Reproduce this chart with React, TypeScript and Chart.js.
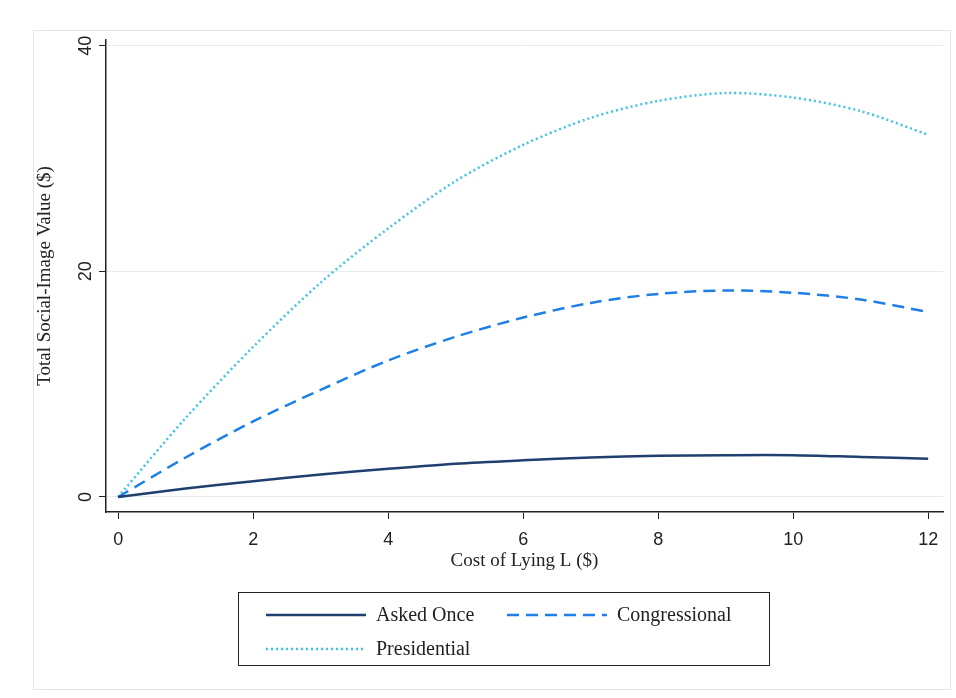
import React, { useEffect, useRef } from "react";
import { Chart, registerables } from "chart.js";
Chart.register(...registerables);

const costs = [0, 1, 2, 3, 4, 5, 6, 7, 8, 9, 10, 11, 12];
const askedOnce = [0, 0.75, 1.4, 2, 2.5, 2.95, 3.25, 3.5, 3.65, 3.7, 3.7, 3.55, 3.4];
const congressional = [0, 3.5, 6.7, 9.5, 12.1, 14.2, 15.9, 17.2, 18, 18.3, 18.1, 17.5, 16.4];
const presidential = [0, 7, 13.3, 19, 23.8, 28, 31.2, 33.6, 35.1, 35.8, 35.4, 34.2, 32.1];

const C1 = "#1f3f6e", C2 = "#1e80e6", C3 = "#3cc4e4";

const rotatedYTicks = {
  id: "rotatedYTicks",
  afterDraw(chart: any) {
    const s = chart.scales.y;
    const ctx = chart.ctx;
    ctx.save();
    ctx.fillStyle = "#222";
    ctx.font = "18px 'Liberation Sans'";
    ctx.textAlign = "center";
    ctx.textBaseline = "middle";
    s.ticks.forEach((t: any) => {
      const y = s.getPixelForValue(t.value);
      ctx.save();
      ctx.translate(s.right - 20, y);
      ctx.rotate(-Math.PI / 2);
      ctx.fillText(String(t.value), 0, 0);
      ctx.restore();
    });
    ctx.restore();
  },
};

export default function App() {
  const ref = useRef<HTMLCanvasElement>(null);
  useEffect(() => {
    const mk = (d: number[]) => costs.map((x, i) => ({ x, y: d[i] }));
    const chart = new Chart(ref.current!, {
      type: "line",
      data: {
        datasets: [
          { label: "Asked Once", data: mk(askedOnce), borderColor: C1, borderWidth: 2.5, pointRadius: 0, tension: 0.3 },
          { label: "Congressional", data: mk(congressional), borderColor: C2, borderWidth: 2.5, borderDash: [12, 7], pointRadius: 0, tension: 0.3 },
          { label: "Presidential", data: mk(presidential), borderColor: C3, borderWidth: 2.5, borderDash: [2, 3], pointRadius: 0, tension: 0.3 },
        ],
      },
      options: {
        animation: false,
        responsive: false,
        layout: { padding: { left: 30, right: 13, top: 40, bottom: 24 } },
        plugins: { legend: { display: false }, tooltip: { enabled: false } },
        scales: {
          x: {
            type: "linear", min: -0.18, max: 12.22,
            ticks: { stepSize: 2, includeBounds: false, padding: 10, color: "#222", font: { family: "Liberation Sans", size: 18 } },
            grid: { drawOnChartArea: false, tickLength: 7, tickColor: "#222" },
            border: { color: "#222", width: 1.5 },
            title: { display: true, text: "Cost of Lying L ($)", color: "#222", font: { family: "Liberation Serif", size: 19 }, padding: { top: 0 } },
            afterFit: (s: any) => { s.height = 64; },
          },
          y: {
            min: -1.33, max: 40.5,
            ticks: { stepSize: 20, includeBounds: false, color: "rgba(0,0,0,0)", font: { family: "Liberation Sans", size: 18 } },
            grid: { color: "#e4ecee", tickLength: 7, tickColor: "#222" },
            border: { color: "#222", width: 1.5 },
            title: { display: true, text: "Total Social-Image Value ($)", color: "#222", font: { family: "Liberation Serif", size: 19 } },
            afterFit: (s: any) => { s.width = 76; },
          },
        },
      },
      plugins: [rotatedYTicks],
    });
    return () => chart.destroy();
  }, []);
  const item = (color: string, dash: string, label: string) => (
    <div style={{ display: "flex", alignItems: "center" }}>
      <svg width="100" height="10" style={{ marginRight: 10 }}>
        <line x1="0" y1="5" x2="100" y2="5" stroke={color} strokeWidth="2.5" strokeDasharray={dash} />
      </svg>
      <span>{label}</span>
    </div>
  );
  return (
    <div style={{ position: "absolute", left: 0, top: 0, width: 956, height: 698, background: "#fff", overflow: "hidden" }}>
      <div style={{ position: "absolute", left: 33, top: 30, width: 916, height: 658, border: "1px solid #dfe6ea" }} />
      <canvas ref={ref} width={956} height={600} style={{ position: "absolute", left: 0, top: 0 }} />
      <div style={{ position: "absolute", left: 238, top: 592, width: 530, height: 72, border: "1.5px solid #222", fontFamily: "Liberation Serif", fontSize: 20, color: "#222" }}>
        <div style={{ position: "absolute", left: 27, top: 10 }}>{item(C1, "", "Asked Once")}</div>
        <div style={{ position: "absolute", left: 268, top: 10 }}>{item(C2, "12 7", "Congressional")}</div>
        <div style={{ position: "absolute", left: 27, top: 44 }}>{item(C3, "2 3", "Presidential")}</div>
      </div>
    </div>
  );
}
